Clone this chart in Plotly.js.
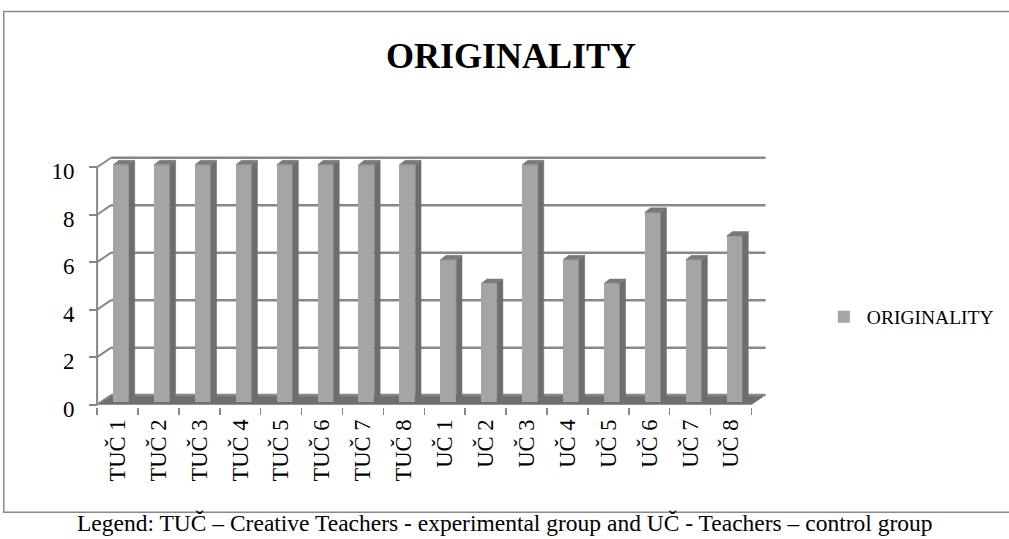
<!DOCTYPE html>
<html>
<head>
<meta charset="utf-8">
<script src="https://cdn.plot.ly/plotly-3.0.1.min.js"></script>
<style>html,body{margin:0;padding:0;background:#fff;}#chart{width:1009px;height:539px;}</style>
</head>
<body>
<div id="chart"></div>
<script>
// ---- data ----
const categories = ['TUČ 1','TUČ 2','TUČ 3','TUČ 4','TUČ 5','TUČ 6','TUČ 7','TUČ 8',
                    'UČ 1','UČ 2','UČ 3','UČ 4','UČ 5','UČ 6','UČ 7','UČ 8'];
const originality = [10,10,10,10,10,10,10,10,6,5,10,6,5,8,6,7];
const yTickValues = [0,2,4,6,8,10];
const seriesName = 'ORIGINALITY';
const chartTitle = 'ORIGINALITY';
const caption = 'Legend: TUČ – Creative Teachers - experimental group and UČ - Teachers – control group';

// ---- layout geometry (pixels) ----
const W = 1009, H = 539;
const pxX = 40.9, pxY = 23.7;      // pixels per unit
const frontX0 = 97.3, frontY0 = 404.5;
const xr = [-0.1, 16.5], yr = [-0.1, 10.6];
const mL = frontX0 + xr[0]*pxX;
const plotW = (xr[1]-xr[0])*pxX;
const mR = W - mL - plotW;
const mB = H - (frontY0 - yr[0]*pxY);
const plotH = (yr[1]-yr[0])*pxY;
const mT = H - mB - plotH;
const px2paperX = p => (p - mL)/plotW;
const px2paperY = p => (H - mB - p)/plotH;

const Dx = 14/pxX, Dy = 9.5/pxY;         // depth of the 3D box
const barOff = -0.11, barW = 0.391, barBase = 0.1;
const sdx = 5.7/pxX, sdy = 4.5/pxY;      // bar depth

const n = categories.length;
const centers = categories.map((c,i)=>i+0.5);

// side faces & top faces built from the values
const sideX = [], sideY = [], topX = [], topY = [];
originality.forEach((v,i)=>{
  const xl = centers[i] + barOff, xR = xl + barW, t = v + barBase;
  sideX.push(xR, xR, xR+sdx, xR+sdx, xR, null);
  sideY.push(barBase, t, t+sdy, barBase+sdy, barBase, null);
  topX.push(xl, xR, xR+sdx, xl+sdx, xl, null);
  topY.push(t, t, t+sdy, t+sdy, t, null);
});

const traces = [
  {type:'bar', x: centers, y: originality, base: barBase, offset: barOff, width: barW,
   name: seriesName, marker:{color:'#a5a5a5', line:{width:0}}, showlegend:true},
  {type:'scatter', mode:'lines', x: sideX, y: sideY, fill:'toself', fillcolor:'#6e6e6e',
   line:{color:'#6e6e6e', width:0.5}, showlegend:false, hoverinfo:'skip'},
  {type:'scatter', mode:'lines', x: topX, y: topY, fill:'toself', fillcolor:'#7a7a7a',
   line:{color:'#7a7a7a', width:0.5}, showlegend:false, hoverinfo:'skip'},
  {type:'scatter', mode:'markers', x:[0], y:[0], xaxis:'x2', yaxis:'y',
   marker:{opacity:0}, showlegend:false, hoverinfo:'skip'}
];

const gridColor = '#878787';
const shapes = [];
shapes.push({type:'path', xref:'x', yref:'y', layer:'below',
  path:`M 0,0 L ${n},0 L ${n+Dx},${Dy} L ${Dx},${Dy} Z`, fillcolor:'#6f6f6f', line:{width:0}});
yTickValues.forEach(v=>{
  shapes.push({type:'line', xref:'x', yref:'y', layer:'below', x0:Dx, x1:n+Dx, y0:v+Dy, y1:v+Dy,
    line:{color:gridColor, width:2.5}});
  shapes.push({type:'line', xref:'x', yref:'y', layer:'below', x0:0, x1:Dx, y0:v, y1:v+Dy,
    line:{color:gridColor, width:2}});
});
shapes.push({type:'line', xref:'x', yref:'y', layer:'below', x0:0, x1:0, y0:0, y1:yTickValues[yTickValues.length-1],
  line:{color:gridColor, width:2}});
// outer chart border
shapes.push({type:'rect', xref:'paper', yref:'paper',
  x0:px2paperX(4), x1:px2paperX(1015), y0:px2paperY(512), y1:px2paperY(12),
  line:{color:'#8a8a8a', width:1.5}, fillcolor:'rgba(0,0,0,0)'});

const serif = '"Liberation Serif", "Times New Roman", serif';
const layout = {
  width: W, height: H,
  margin:{l:mL, r:mR, t:mT, b:mB, pad:0, autoexpand:false},
  paper_bgcolor:'#ffffff', plot_bgcolor:'rgba(0,0,0,0)',
  title:{text:'<b>'+chartTitle+'</b>', font:{family:serif, size:36, color:'#000'},
         xref:'container', yref:'container', x:511/W, y:1-55/H, xanchor:'center', yanchor:'middle'},
  xaxis:{range:xr, tickvals:centers, ticktext:categories, tickangle:-90, ticks:'',
         showgrid:false, zeroline:false, showline:false, ticklabelstandoff:7,
         tickfont:{family:serif, size:22.5, color:'#000'}, fixedrange:true},
  xaxis2:{range:xr, overlaying:'x', anchor:'y', side:'bottom', tickvals:Array.from({length:n+1},(_,i)=>i),
          ticks:'outside', ticklen:7, tickwidth:1.5, tickcolor:gridColor, showticklabels:false,
          showgrid:false, zeroline:false, showline:false},
  yaxis:{range:yr, tickvals:yTickValues, ticks:'outside', ticklen:8, tickwidth:2, tickcolor:gridColor,
         anchor:'free', position:px2paperX(frontX0), showgrid:false, zeroline:false, showline:false,
         ticklabelstandoff:10, ticklabelshift:4, tickfont:{family:serif, size:23, color:'#000'}},
  legend:{x:px2paperX(821), y:px2paperY(317), xanchor:'left', yanchor:'middle', itemwidth:36,
          font:{family:serif, size:19.5, color:'#000'}, bgcolor:'rgba(0,0,0,0)'},
  shapes: shapes,
  annotations:[{xref:'paper', yref:'paper', x:px2paperX(505), y:px2paperY(523), text:caption,
    showarrow:false, xanchor:'center', yanchor:'middle', font:{family:serif, size:23.5, color:'#000'}}],
  showlegend:true, bargap:0
};
Plotly.newPlot('chart', traces, layout, {staticPlot:true, displayModeBar:false});
</script>
</body>
</html>
